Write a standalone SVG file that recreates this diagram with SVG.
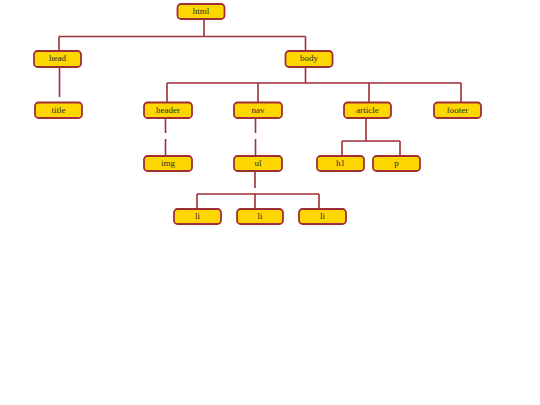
<svg xmlns="http://www.w3.org/2000/svg" width="540" height="405" viewBox="0 0 540 405">
<style>
.n rect{fill:#FFD700;stroke:#A02E34;stroke-width:1.8}
.n text{font-family:"Liberation Serif","DejaVu Serif",serif;font-size:9px;fill:#2a2a2a;text-anchor:middle}
.c path{fill:none;stroke:#A02E34;stroke-width:1.6}
</style>
<rect width="540" height="405" fill="#fff"/>
<g class="c">
<path d="M204 19V36.5M59 36.5H305.5M59 36.5V51M305.5 36.5V51"/>
<path d="M59.5 67V97"/>
<path d="M305.5 67V83M167 83H461M167 83V102.5M258 83V102.5M369 83V102.5M461 83V102.5"/>
<path d="M165.5 118V133M165.5 139V156"/>
<path d="M255.5 118V133M255.5 139V156"/>
<path d="M366 118V141M342 141H400M342 141V156M400 141V156"/>
<path d="M255 171V188M197 194H319M197 194V209M255 194V209M319 194V209"/>
</g>
<g id="html" class="n"><rect x="177.5" y="4" width="47" height="15" rx="3.5"/><text x="201" y="13.5">html</text></g>
<g id="head" class="n"><rect x="34" y="51" width="47" height="16" rx="3.5"/><text x="57.5" y="61">head</text></g>
<g id="body" class="n"><rect x="285.5" y="51" width="47" height="16" rx="3.5"/><text x="309" y="61">body</text></g>
<g id="title" class="n"><rect x="35" y="102.5" width="47" height="15.5" rx="3.5"/><text x="58.5" y="112.5">title</text></g>
<g id="header" class="n"><rect x="144" y="102.5" width="48" height="15.5" rx="3.5"/><text x="168" y="112.5">header</text></g>
<g id="nav" class="n"><rect x="234" y="102.5" width="48" height="15.5" rx="3.5"/><text x="258" y="112.5">nav</text></g>
<g id="article" class="n"><rect x="344" y="102.5" width="47" height="15.5" rx="3.5"/><text x="367.5" y="112.5">article</text></g>
<g id="footer" class="n"><rect x="434" y="102.5" width="47" height="15.5" rx="3.5"/><text x="457.5" y="112.5">footer</text></g>
<g id="img" class="n"><rect x="144" y="156" width="48" height="15" rx="3.5"/><text x="168" y="165.5">img</text></g>
<g id="ul" class="n"><rect x="234" y="156" width="48" height="15" rx="3.5"/><text x="258" y="165.5">ul</text></g>
<g id="h1" class="n"><rect x="317" y="156" width="47" height="15" rx="3.5"/><text x="340.5" y="165.5">h1</text></g>
<g id="p" class="n"><rect x="373" y="156" width="47" height="15" rx="3.5"/><text x="396.5" y="165.5">p</text></g>
<g id="li1" class="n"><rect x="174" y="209" width="47" height="15" rx="3.5"/><text x="197.5" y="218.5">li</text></g>
<g id="li2" class="n"><rect x="237" y="209" width="46" height="15" rx="3.5"/><text x="260" y="218.5">li</text></g>
<g id="li3" class="n"><rect x="299" y="209" width="47" height="15" rx="3.5"/><text x="322.5" y="218.5">li</text></g>
</svg>
